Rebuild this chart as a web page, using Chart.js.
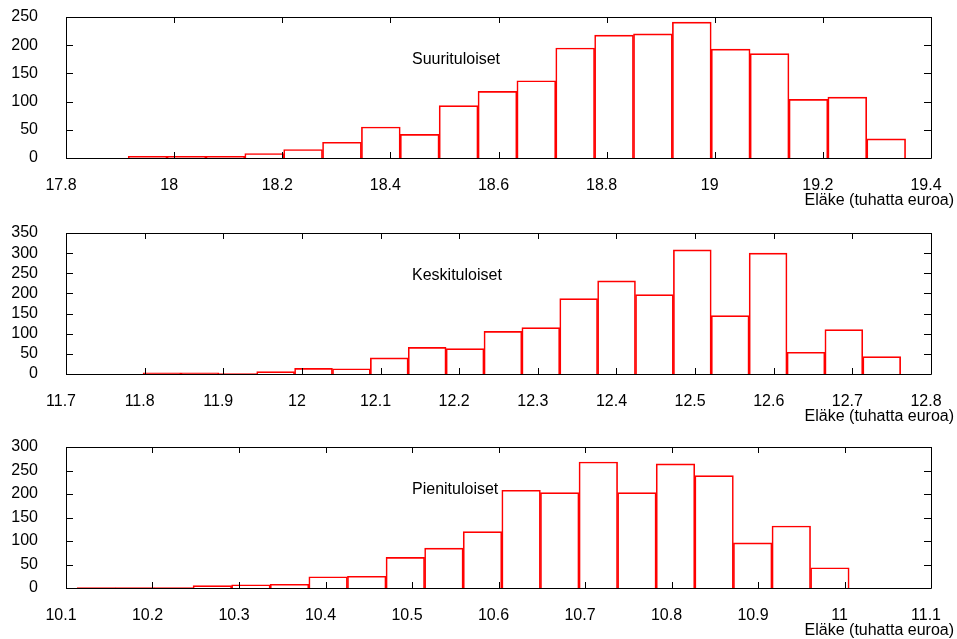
<!DOCTYPE html>
<html>
<head>
<meta charset="utf-8">
<script src="https://cdn.jsdelivr.net/npm/chart.js@4.4.1/dist/chart.umd.min.js"></script>
<style>
  html, body { margin: 0; padding: 0; background: #fff; }
  #wrap { position: relative; width: 957px; height: 639px; }
  canvas { position: absolute; left: 0; }
</style>
</head>
<body>
<div id="wrap">
  <canvas id="c1" width="957" height="216" style="top:0px"></canvas>
  <canvas id="c2" width="957" height="215" style="top:216px"></canvas>
  <canvas id="c3" width="957" height="208" style="top:431px"></canvas>
</div>
<script>
// Histogram counts (20 bins each)
const suuriCounts = [3, 3, 3, 8, 15, 28, 55, 42, 93, 118, 137, 195, 218, 220, 241, 193, 185, 104, 108, 34];
const keskiCounts = [3, 3, 1, 6, 14, 13, 40, 66, 63, 106, 115, 187, 231, 197, 308, 145, 300, 54, 110, 43];
const pieniCounts = [1, 1, 1, 5, 7, 8, 24, 25, 65, 85, 120, 208, 203, 268, 203, 264, 239, 96, 132, 43];

// Bin edges (first edge and bin width, thousands of euros)
const suuriBins = [17.915, 0.0719];
const keskiBins = [11.798, 0.04817];
const pieniBins = [10.113, 0.04462];

// Axis ranges
const suuriX = [17.8, 19.4, 0.2];
const keskiX = [11.7, 12.8, 0.1];
const pieniX = [10.1, 11.1, 0.1];
const suuriY = [0, 250, 50];
const keskiY = [0, 350, 50];
const pieniY = [0, 300, 50];

const xTitle = 'Eläke (tuhatta euroa)';
const FONT = 'Liberation Sans, Arial, sans-serif';

Chart.defaults.font.family = FONT;
Chart.defaults.font.size = 16;
Chart.defaults.color = '#000';

// gnuplot-like frame: border, inward ticks, panel label, axis title
const framePlugin = {
  id: 'frame',
  afterDatasetsDraw(chart, args, opts) {
    const { ctx, chartArea: a, scales: { x, y } } = chart;
    ctx.save();
    ctx.strokeStyle = '#000';
    ctx.lineWidth = 1;
    ctx.beginPath();
    ctx.rect(Math.round(a.left) + 0.5, Math.round(a.top) + 0.5,
      Math.round(a.right - a.left), Math.round(a.bottom - a.top));
    x.ticks.forEach(t => {
      const px = Math.round(x.getPixelForValue(t.value)) + 0.5;
      ctx.moveTo(px, a.bottom); ctx.lineTo(px, a.bottom - 6);
      ctx.moveTo(px, a.top); ctx.lineTo(px, a.top + 6);
    });
    y.ticks.forEach(t => {
      const py = Math.round(y.getPixelForValue(t.value)) + 0.5;
      ctx.moveTo(a.left, py); ctx.lineTo(a.left + 7, py);
      ctx.moveTo(a.right, py); ctx.lineTo(a.right - 7, py);
    });
    ctx.stroke();

    ctx.fillStyle = '#000';
    ctx.font = '16px ' + FONT;
    ctx.textBaseline = 'middle';
    ctx.textAlign = 'left';
    ctx.fillText(opts.label, a.left + 346, a.top + 43);
    ctx.textAlign = 'right';
    ctx.fillText(xTitle, 954, a.bottom + 43);
    ctx.restore();
  }
};

function makeHist(id, label, counts, bins, xr, yr, topPad, xAxisH) {
  const data = counts.map((v, i) => ({ x: bins[0] + bins[1] * (i + 0.5), y: v }));
  new Chart(document.getElementById(id), {
    type: 'bar',
    data: {
      datasets: [{
        data: data,
        backgroundColor: 'rgba(255,255,255,0)',
        borderColor: '#ff0000',
        borderWidth: 1,
        barPercentage: 1,
        categoryPercentage: 1
      }]
    },
    options: {
      responsive: false,
      animation: false,
      layout: { padding: { top: topPad, right: 26, left: 0, bottom: 0 } },
      plugins: {
        legend: { display: false },
        tooltip: { enabled: false },
        frame: { label: label }
      },
      scales: {
        x: {
          type: 'linear',
          offset: false,
          min: xr[0],
          max: xr[1],
          grid: { display: false, drawTicks: false, offset: false },
          border: { display: false },
          ticks: {
            stepSize: xr[2],
            padding: 18,
            labelOffset: -5,
            maxRotation: 0,
            autoSkip: false,
            callback: v => String(+v.toFixed(2))
          },
          afterFit: s => {
            s.height = xAxisH;
            s.paddingLeft = 0;
            s.paddingRight = 0;
          }
        },
        y: {
          min: yr[0],
          max: yr[1],
          grid: { display: false, drawTicks: false },
          border: { display: false },
          ticks: { stepSize: yr[2], padding: 28, autoSkip: false },
          afterFit: s => {
            s.width = 66;
            s.paddingTop = 0;
            s.paddingBottom = 0;
          }
        }
      }
    },
    plugins: [framePlugin]
  });
}

makeHist('c1', 'Suurituloiset', suuriCounts, suuriBins, suuriX, suuriY, 17, 58);
makeHist('c2', 'Keskituloiset', keskiCounts, keskiBins, keskiX, keskiY, 17, 57);
makeHist('c3', 'Pienituloiset', pieniCounts, pieniBins, pieniX, pieniY, 16, 51);
</script>
</body>
</html>
